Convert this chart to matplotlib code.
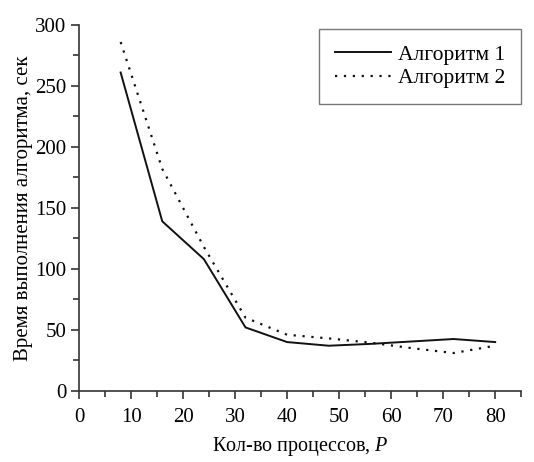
import matplotlib.pyplot as plt
from matplotlib.ticker import MultipleLocator

plt.rcParams['font.family'] = ['Liberation Serif', 'DejaVu Serif']
plt.rcParams['mathtext.fontset'] = 'custom'
plt.rcParams['mathtext.it'] = 'Liberation Serif:italic'
plt.rcParams['mathtext.rm'] = 'Liberation Serif'

procs = [8, 16, 24, 32, 40, 48, 56, 64, 72, 80]
alg1 = [261, 139, 108, 52, 40, 37, 38.5, 40.5, 42.5, 40]
alg2 = [286, 182, 118, 60, 46, 43, 39.5, 35, 31, 37]

fig = plt.figure(figsize=(5.34, 4.62), dpi=100)
ax = fig.add_axes([0.148, 0.154, 0.828, 0.792])

ax.plot(procs, alg1, color='#111111', lw=1.4, label='Алгоритм 1')
ax.plot(procs, alg2, color='#111111', lw=1.6, ls=(0, (1, 3)), label='Алгоритм 2')

ax.set_xlim(0, 85)
ax.set_ylim(0, 300)
ax.xaxis.set_major_locator(MultipleLocator(10))
ax.xaxis.set_minor_locator(MultipleLocator(5))
ax.yaxis.set_major_locator(MultipleLocator(50))
ax.yaxis.set_minor_locator(MultipleLocator(25))
ax.spines['top'].set_visible(False)
ax.spines['right'].set_visible(False)
for s in ('left', 'bottom'):
    ax.spines[s].set_color('#333333')
    ax.spines[s].set_linewidth(1.2)
ax.tick_params(which='major', direction='out', length=6, width=1.2, labelsize=15, color='#333333', pad=3)
ax.tick_params(axis='x', which='major', pad=6)
ax.tick_params(which='minor', direction='out', length=4, width=1.2, color='#333333')

ax.set_xlabel('Кол-во процессов, $\\it{P}$', fontsize=14.5, labelpad=6)
ax.set_ylabel('Время выполнения алгоритма, сек', fontsize=15, labelpad=2)

leg = ax.legend(loc='upper right', bbox_to_anchor=(1.0, 0.99), fontsize=15.5, frameon=True,
                fancybox=False, handlelength=2.6, handletextpad=0.3, borderpad=0.75,
                labelspacing=0.15, borderaxespad=0)
leg.get_frame().set_edgecolor('#555555')
leg.get_frame().set_linewidth(1.0)

fig.savefig('out.png', dpi=100)
